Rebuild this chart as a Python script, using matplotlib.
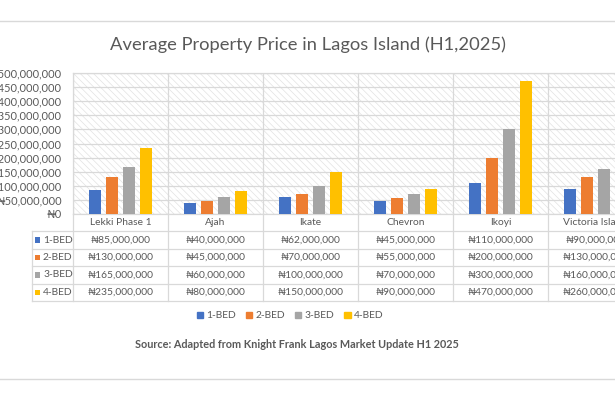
import matplotlib.pyplot as plt
from matplotlib.patches import Rectangle
from matplotlib.lines import Line2D

plt.rcParams['font.family'] = ['Lato', 'DejaVu Sans']
plt.rcParams['hatch.linewidth'] = 0.5

# data
areas = ['Lekki Phase 1', 'Ajah', 'Ikate', 'Chevron', 'Ikoyi', 'Victoria Island']
series = ['1-BED', '2-BED', '3-BED', '4-BED']
bed1 = [85e6, 40e6, 62e6, 45e6, 110e6, 90e6]
bed2 = [130e6, 45e6, 70e6, 55e6, 200e6, 130e6]
bed3 = [165e6, 60e6, 100e6, 70e6, 300e6, 160e6]
bed4 = [235e6, 80e6, 150e6, 90e6, 470e6, 260e6]
values = [bed1, bed2, bed3, bed4]
colors = ['#4472C4', '#ED7D31', '#A5A5A5', '#FFC000']

W, H = 615, 400
txt = '#595959'
grid = '#D9D9D9'

def naira(v):
    return '\u20a6{:,.0f}'.format(v)

fig = plt.figure(figsize=(W / 100, H / 100), dpi=100)

# chart border lines (top and bottom, sides cropped)
fig.add_artist(Line2D([0, 1], [1 - 21 / H, 1 - 21 / H], color=grid, lw=1))
fig.add_artist(Line2D([0, 1], [1 - 379 / H, 1 - 379 / H], color=grid, lw=1))

fig.text(308 / W, 1 - 45 / H, 'Average Property Price in Lagos Island (H1,2025)',
         ha='center', va='center', fontsize=13.2, color=txt)

# plot area
left, right, top, bottom = 73, 643, 73, 214
ax = fig.add_axes([left / W, 1 - bottom / H, (right - left) / W, (bottom - top) / H])
ax.add_patch(Rectangle((0, 0), 1, 1, transform=ax.transAxes, facecolor='white',
                       hatch='\\\\\\\\\\', edgecolor='#E2E2E2', lw=0, zorder=0))

n = len(areas)
bw = 0.126
step = 0.179
for j, vals in enumerate(values):
    xs = [i + (j - 1.5) * step for i in range(n)]
    ax.bar(xs, vals, width=bw, color=colors[j], zorder=3)

ax.set_xlim(-0.5, n - 0.5)
ax.set_ylim(0, 500e6)
yt = [k * 50e6 for k in range(11)]
ax.set_yticks(yt)
ax.set_yticklabels([naira(v) for v in yt])
ax.tick_params(axis='y', length=0, pad=8, labelsize=7.9, labelcolor=txt)
ax.set_xticks([])
for y in yt:
    ax.axhline(y, color=grid, lw=0.9, zorder=1)
for k in range(n + 1):
    ax.axvline(k - 0.5, color=grid, lw=0.9, zorder=1)
for s in ax.spines.values():
    s.set_color(grid)
    s.set_linewidth(0.9)

# data table
lab_w = (left - 32) / 95
tbot = 301
tax = fig.add_axes([32 / W, 1 - tbot / H, (right - 32) / W, (tbot - bottom) / H])
tax.set_xlim(-0.5 - lab_w, n - 0.5)
tax.set_ylim(5, 0)
tax.axis('off')
x0 = -0.5 - lab_w
for r in range(1, 6):
    tax.plot([x0, n - 0.5], [r, r], color=grid, lw=0.9, clip_on=False)
tax.plot([x0, x0], [1, 5], color=grid, lw=0.9, clip_on=False)
for k in range(n + 1):
    tax.plot([k - 0.5, k - 0.5], [0, 5], color=grid, lw=0.9, clip_on=False)
for i, a in enumerate(areas):
    tax.text(i, 0.5, a, ha='center', va='center', fontsize=7.4, color=txt, clip_on=True)
for j, vals in enumerate(values):
    tax.add_patch(Rectangle(((35 - 73) / 95 - 0.5, j + 1.5 - 0.16), 5 / 95, 0.32,
                            color=colors[j], lw=0))
    tax.text((43 - 73) / 95 - 0.5, j + 1.5, series[j], ha='left', va='center',
             fontsize=7.4, color=txt)
    for i, v in enumerate(vals):
        tax.text(i, j + 1.5, naira(v), ha='center', va='center', fontsize=7.4,
                 color=txt, clip_on=True)

handles = [Rectangle((0, 0), 1, 1, color=c) for c in colors]
fig.legend(handles, series, loc='center', bbox_to_anchor=(290 / W, 1 - 316 / H),
           ncol=4, frameon=False, fontsize=7.4, handlelength=0.6, handleheight=0.6,
           handletextpad=0.3, columnspacing=1.0, labelcolor=txt)

fig.text(297 / W, 1 - 344 / H, 'Source: Adapted from Knight Frank Lagos Market Update H1 2025',
         ha='center', va='center', fontsize=7.8, color=txt, fontweight='bold')

fig.savefig('out.png', dpi=100)
